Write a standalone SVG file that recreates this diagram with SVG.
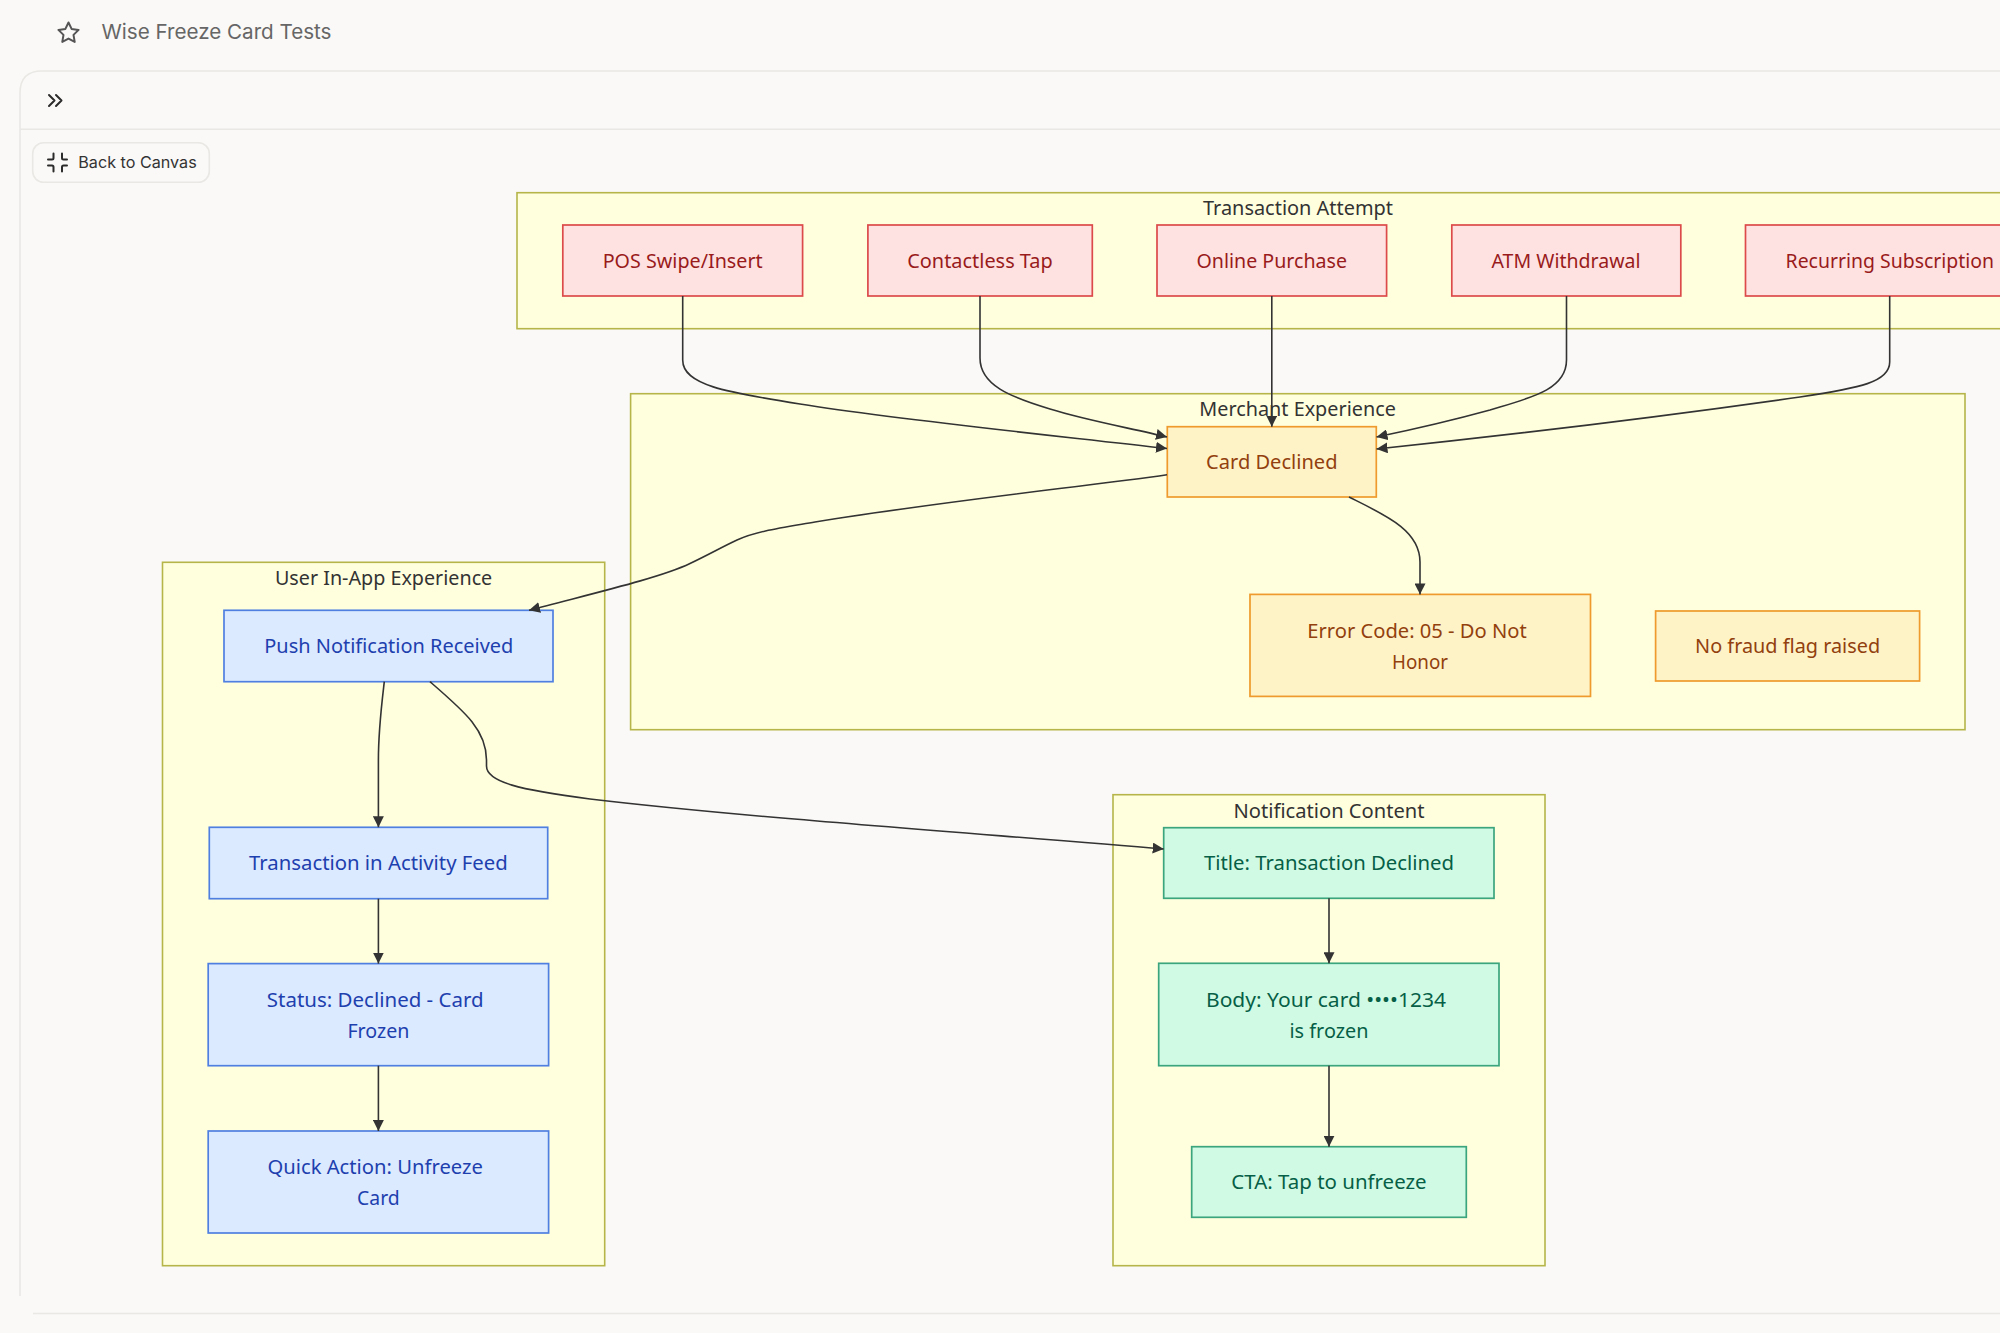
<svg xmlns="http://www.w3.org/2000/svg" width="2000" height="1333" viewBox="0 0 2000 1333">
<defs>
<style>
text{font-family:"Noto Sans","Liberation Sans",sans-serif;font-size:20.4px;text-anchor:middle}
.ui{font-family:Inter,"Liberation Sans",sans-serif;text-anchor:start}
.grp{fill:#ffffde;stroke:#b5b54a;stroke-width:1.6}
.gt{fill:#333}
.red rect{fill:#fee2e2;stroke:#dc4a4a;stroke-width:1.7}.red text{fill:#991b1b}
.org rect{fill:#fef3c7;stroke:#ee9a2c;stroke-width:1.7}.org text{fill:#92400e}
.blu rect{fill:#dbeafe;stroke:#4f7fe0;stroke-width:1.7}.blu text{fill:#1e40af}
.grn rect{fill:#d1fae5;stroke:#3ba57e;stroke-width:1.7}.grn text{fill:#065f46}
.edge{fill:none;stroke:#333;stroke-width:1.6;marker-end:url(#arrow)}
.chrome{fill:none;stroke:#e9e8e5;stroke-width:1.6}
.icon{fill:none;stroke:#2b2b2b;stroke-width:2;stroke-linecap:round;stroke-linejoin:round}
</style>
<marker id="arrow" markerUnits="userSpaceOnUse" markerWidth="11" markerHeight="11" viewBox="0 0 10 10" refX="10" refY="5" orient="auto"><path d="M0 0L10 5L0 10z" fill="#333"/></marker>
</defs>
<rect width="2000" height="1333" fill="#faf9f7"/>
<g id="chrome">
<path class="chrome" d="M2000 71H42Q20 71 20 93V1296"/>
<path class="chrome" d="M20 129.3H2000"/>
<path class="chrome" d="M33 1313.5H2000"/>
<path d="M68.5 22.5l3.1 6.4 7 1-5.1 5 1.2 7-6.2-3.3-6.2 3.3 1.2-7-5.1-5 7-1z" fill="none" stroke="#555" stroke-width="2" stroke-linejoin="round"/>
<text class="ui" x="101.5" y="39.3" fill="#666" style="font-size:20.4px" textLength="230" lengthAdjust="spacingAndGlyphs">Wise Freeze Card Tests</text>
<path class="icon" d="M49 95l5.5 5.5-5.5 5.5M56 95l5.5 5.5-5.5 5.5"/>
<rect x="32.7" y="142.7" width="176.6" height="39.6" rx="11" fill="#faf9f7" stroke="#e9e8e5" stroke-width="1.6"/>
<path class="icon" d="M53.5 153.5v4.5a1.5 1.5 0 0 1-1.5 1.5h-4M62 153.5v4.5a1.5 1.5 0 0 0 1.5 1.5h3.5M48 165.5h4a1.5 1.5 0 0 1 1.5 1.5v4.5M67 165.5h-3.5a1.5 1.5 0 0 0-1.5 1.5v4.5"/>
<text class="ui" x="78.3" y="168.2" fill="#333" style="font-size:16.3px" textLength="118.4" lengthAdjust="spacingAndGlyphs">Back to Canvas</text>
</g>
<g id="clusters">
<g id="cluster-transaction"><rect class="grp" x="517" y="192.7" width="1500" height="136"/><text class="gt" x="1298" y="214.7" textLength="190" lengthAdjust="spacingAndGlyphs">Transaction Attempt</text></g>
<g id="cluster-merchant"><rect class="grp" x="630.6" y="393.7" width="1334.4" height="336"/><text class="gt" x="1297.6" y="416" textLength="196.5" lengthAdjust="spacingAndGlyphs">Merchant Experience</text></g>
<g id="cluster-user"><rect class="grp" x="162.5" y="562.3" width="442.2" height="703.4"/><text class="gt" x="383.6" y="585" textLength="217.3" lengthAdjust="spacingAndGlyphs">User In-App Experience</text></g>
<g id="cluster-notification"><rect class="grp" x="1113" y="794.7" width="432" height="471"/><text class="gt" x="1329" y="817.7" textLength="191" lengthAdjust="spacingAndGlyphs">Notification Content</text></g>
</g>
<g id="nodes">
<g id="n-pos" class="red"><rect x="562.8" y="225" width="239.8" height="71"/><text x="682.7" y="267.5" textLength="160" lengthAdjust="spacingAndGlyphs">POS Swipe/Insert</text></g>
<g id="n-contactless" class="red"><rect x="867.9" y="225" width="224.4" height="71"/><text x="980" y="267.5" textLength="145.5" lengthAdjust="spacingAndGlyphs">Contactless Tap</text></g>
<g id="n-online" class="red"><rect x="1157" y="225" width="229.6" height="71"/><text x="1271.8" y="267.5" textLength="150.5" lengthAdjust="spacingAndGlyphs">Online Purchase</text></g>
<g id="n-atm" class="red"><rect x="1451.8" y="225" width="229" height="71"/><text x="1566" y="267.5" textLength="149" lengthAdjust="spacingAndGlyphs">ATM Withdrawal</text></g>
<g id="n-recurring" class="red"><rect x="1745.5" y="225" width="288.5" height="71"/><text x="1889.8" y="267.5" textLength="208.5" lengthAdjust="spacingAndGlyphs">Recurring Subscription</text></g>
<g id="n-declined" class="org"><rect x="1167.3" y="426.7" width="209" height="70.3"/><text x="1271.8" y="469" textLength="131.4" lengthAdjust="spacingAndGlyphs">Card Declined</text></g>
<g id="n-error" class="org"><rect x="1250" y="594.4" width="340.5" height="102"/><text x="1417" y="637.5" textLength="219.4" lengthAdjust="spacingAndGlyphs">Error Code: 05 - Do Not</text><text x="1420" y="669" textLength="56" lengthAdjust="spacingAndGlyphs">Honor</text></g>
<g id="n-nofraud" class="org"><rect x="1655.6" y="611" width="264" height="70"/><text x="1787.6" y="653" textLength="185" lengthAdjust="spacingAndGlyphs">No fraud flag raised</text></g>
<g id="n-push" class="blu"><rect x="224" y="610.3" width="329" height="71.4"/><text x="388.8" y="653" textLength="249" lengthAdjust="spacingAndGlyphs">Push Notification Received</text></g>
<g id="n-activity" class="blu"><rect x="209.3" y="827.3" width="338.4" height="71.4"/><text x="378.4" y="870" textLength="258.7" lengthAdjust="spacingAndGlyphs">Transaction in Activity Feed</text></g>
<g id="n-status" class="blu"><rect x="208.2" y="963.6" width="340.4" height="102.1"/><text x="375.2" y="1006.7" textLength="216.8" lengthAdjust="spacingAndGlyphs">Status: Declined - Card</text><text x="378.4" y="1038.3" textLength="62" lengthAdjust="spacingAndGlyphs">Frozen</text></g>
<g id="n-quick" class="blu"><rect x="208.2" y="1131" width="340.4" height="102"/><text x="375.2" y="1173.7" textLength="215.5" lengthAdjust="spacingAndGlyphs">Quick Action: Unfreeze</text><text x="378.4" y="1205.3" textLength="42.6" lengthAdjust="spacingAndGlyphs">Card</text></g>
<g id="n-title" class="grn"><rect x="1163.7" y="827.7" width="330.3" height="70.6"/><text x="1329" y="870" textLength="250" lengthAdjust="spacingAndGlyphs">Title: Transaction Declined</text></g>
<g id="n-body" class="grn"><rect x="1158.7" y="963.3" width="340.3" height="102.4"/><text x="1326" y="1006.7" textLength="240" lengthAdjust="spacingAndGlyphs">Body: Your card ••••1234</text><text x="1329" y="1038.3" textLength="79" lengthAdjust="spacingAndGlyphs">is frozen</text></g>
<g id="n-cta" class="grn"><rect x="1191.7" y="1146.7" width="274.6" height="70.6"/><text x="1329" y="1189" textLength="195.3" lengthAdjust="spacingAndGlyphs">CTA: Tap to unfreeze</text></g>
</g>
<g id="connectors">
<path class="edge" d="M682.7 296V360C682.7 385 725 392 800 404C900 420 1040 434 1167 448.5"/>
<path class="edge" d="M980 296V358C980 385 1010 397 1050 409C1085 420 1130 428 1167 437"/>
<path class="edge" d="M1271.8 296V426.7"/>
<path class="edge" d="M1566.5 296V360C1566.5 390 1530 398 1490 410C1450 421 1420 428 1376.5 437"/>
<path class="edge" d="M1889.7 296V362C1889.7 382 1860 388 1800 397C1660 417 1500 436 1376.5 449"/>
<path class="edge" d="M1167 474.7C1090 486 950 500 815 522C780 528 757 531 737 540C722 547 708 555 690 563.5C660 578 590 594 529 610.3"/>
<path class="edge" d="M1349 497C1385 515 1420 530 1420 562V594.4"/>
<path class="edge" d="M384.3 681.7C381 710 378.4 730 378.4 760V827.3"/>
<path class="edge" d="M430 681.7C465 712 486.5 730 486.5 760V766C486.5 782 520 790 590 799C750 818 1000 835 1163.7 849"/>
<path class="edge" d="M378.4 898.7V963.6"/>
<path class="edge" d="M378.4 1065.7V1131"/>
<path class="edge" d="M1329 898.3V963.3"/>
<path class="edge" d="M1329 1065.7V1146.7"/>
</g>
</svg>
